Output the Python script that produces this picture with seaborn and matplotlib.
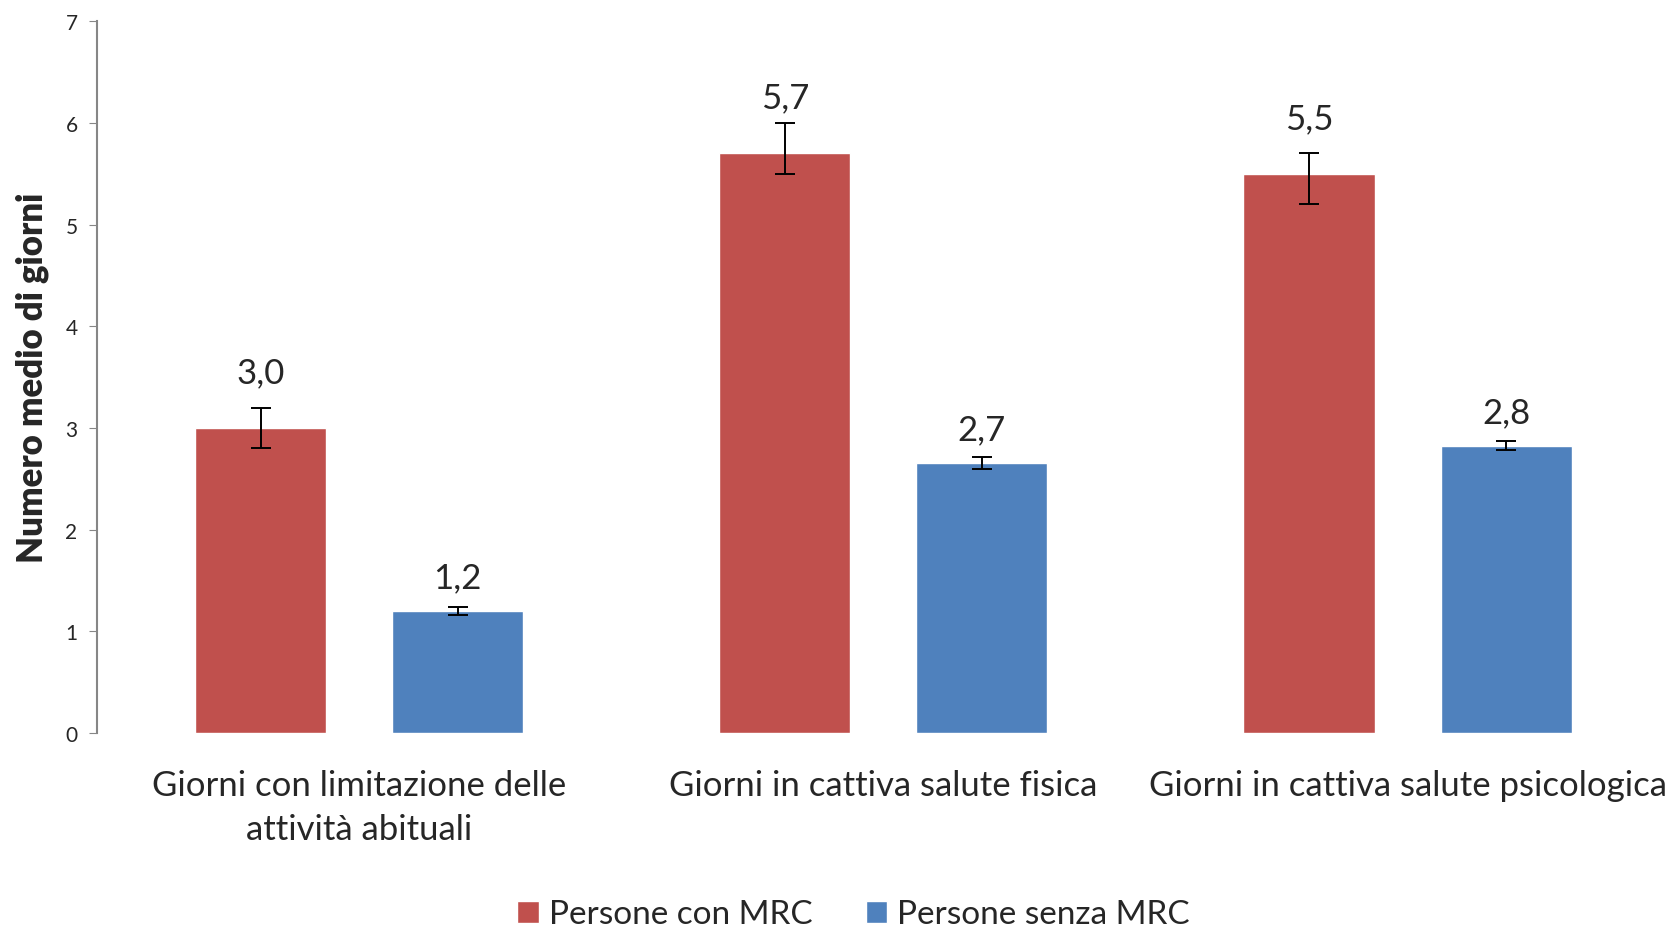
import matplotlib
matplotlib.use("Agg")
import matplotlib.pyplot as plt
import seaborn as sns
import pandas as pd

categorie = ["Giorni con limitazione delle\nattività abituali",
             "Giorni in cattiva salute fisica",
             "Giorni in cattiva salute psicologica"]
gruppi = ["Persone con MRC", "Persone senza MRC"]
con_mrc = [3.0, 5.7, 5.5]
con_mrc_low = [2.8, 5.5, 5.2]
con_mrc_high = [3.2, 6.0, 5.7]
senza_mrc = [1.2, 2.66, 2.82]
senza_mrc_low = [1.165, 2.60, 2.78]
senza_mrc_high = [1.24, 2.71, 2.875]

df = pd.DataFrame({
    "categoria": categorie * 2,
    "gruppo": [gruppi[0]] * 3 + [gruppi[1]] * 3,
    "giorni": con_mrc + senza_mrc,
})
colori = {gruppi[0]: "#C0504D", gruppi[1]: "#4F81BD"}

sns.set_style("white")
plt.rcParams["font.family"] = ["Lato", "DejaVu Sans"]

fig = plt.figure(figsize=(16.73, 9.28), dpi=100)
ax = fig.add_axes([0.058, 0.209, 0.94, 0.767])
sns.barplot(data=df, x="categoria", y="giorni", hue="gruppo", palette=colori,
            width=0.752, gap=0.335, errorbar=None, ax=ax, saturation=1)

lows = [con_mrc_low, senza_mrc_low]
highs = [con_mrc_high, senza_mrc_high]
offset = [0.55, 0.33]
bar_conts = list(ax.containers)
for k, cont in enumerate(bar_conts):
    vals = [con_mrc, senza_mrc][k]
    xs = [b.get_x() + b.get_width() / 2 for b in cont]
    yerr = [[v - l for v, l in zip(vals, lows[k])],
            [h - v for v, h in zip(vals, highs[k])]]
    ax.errorbar(xs, vals, yerr=yerr, fmt="none", ecolor="black",
                elinewidth=1.4, capsize=7, capthick=1.4)
    for x, v in zip(xs, vals):
        ax.text(x, v + offset[k], f"{v:.1f}".replace(".", ","),
                ha="center", va="center", fontsize=25)

ax.set_xlim(-0.5, 2.5)
ax.set_ylim(0, 7)
ax.set_yticks(range(8))
ax.tick_params(axis="y", labelsize=15, length=6, color="#868686", direction="out",
               left=True, pad=8)
ax.tick_params(axis="x", labelsize=25, length=0, pad=26)
for lab in ax.get_xticklabels():
    lab.set_linespacing(1.45)
ax.set_xlabel("")
ax.set_ylabel("Numero medio di giorni", fontsize=25, fontweight="heavy", labelpad=12)
for s in ["top", "right", "bottom"]:
    ax.spines[s].set_visible(False)
ax.spines["left"].set_color("#868686")
ax.spines["left"].set_linewidth(1.5)

sns.move_legend(ax, "lower center", bbox_to_anchor=(0.481, -0.318), ncol=2,
                frameon=False, title=None, fontsize=24, handlelength=0.65,
                handleheight=0.65, columnspacing=1.6, handletextpad=0.3)

fig.savefig("out.png", dpi=100)
